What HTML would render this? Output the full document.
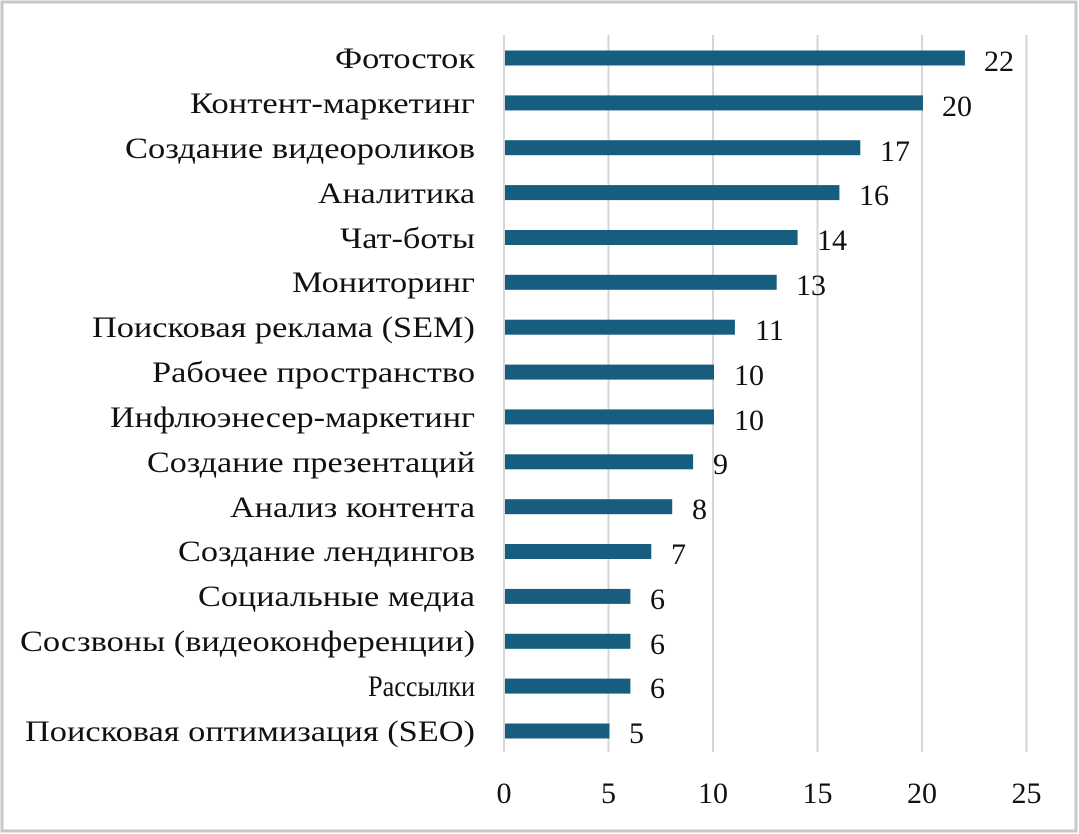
<!DOCTYPE html>
<html><head><meta charset="utf-8"><style>
html,body{margin:0;padding:0;background:#fff;}
svg{display:block;}
text{font-family:"Liberation Serif",serif;font-size:30px;fill:#111;}
</style></head><body>
<svg width="1079" height="834" viewBox="0 0 1079 834">
<rect x="2" y="2" width="1074" height="829" fill="#fff" stroke="#c8c8c8" stroke-width="3"/>
<g stroke="#d6d6d6" stroke-width="2">
<line x1="504" y1="35" x2="504" y2="752"/>
<line x1="608.5" y1="35" x2="608.5" y2="752"/>
<line x1="713" y1="35" x2="713" y2="752"/>
<line x1="817.5" y1="35" x2="817.5" y2="752"/>
<line x1="922" y1="35" x2="922" y2="752"/>
<line x1="1026.5" y1="35" x2="1026.5" y2="752"/>
</g>
<g fill="#175d7f">
<rect x="505" y="50.5" width="459.9" height="15"/>
<rect x="505" y="95.4" width="418" height="15"/>
<rect x="505" y="140.2" width="355.3" height="15"/>
<rect x="505" y="185.1" width="334.4" height="15"/>
<rect x="505" y="230" width="292.6" height="15"/>
<rect x="505" y="274.8" width="271.7" height="15"/>
<rect x="505" y="319.7" width="229.9" height="15"/>
<rect x="505" y="364.6" width="209" height="15"/>
<rect x="505" y="409.4" width="209" height="15"/>
<rect x="505" y="454.3" width="188.1" height="15"/>
<rect x="505" y="499.2" width="167.2" height="15"/>
<rect x="505" y="544" width="146.3" height="15"/>
<rect x="505" y="588.9" width="125.4" height="15"/>
<rect x="505" y="633.8" width="125.4" height="15"/>
<rect x="505" y="678.6" width="125.4" height="15"/>
<rect x="505" y="723.5" width="104.5" height="15"/>
</g>
<g lengthAdjust="spacingAndGlyphs">
<text x="335" y="68" textLength="140" lengthAdjust="spacingAndGlyphs">Фотосток</text>
<text x="190" y="113" textLength="285" lengthAdjust="spacingAndGlyphs">Контент-маркетинг</text>
<text x="125" y="158" textLength="350" lengthAdjust="spacingAndGlyphs">Создание видеороликов</text>
<text x="318" y="203" textLength="157" lengthAdjust="spacingAndGlyphs">Аналитика</text>
<text x="340" y="248" textLength="135" lengthAdjust="spacingAndGlyphs">Чат-боты</text>
<text x="292" y="292" textLength="183" lengthAdjust="spacingAndGlyphs">Мониторинг</text>
<text x="92" y="337" textLength="383" lengthAdjust="spacingAndGlyphs">Поисковая реклама (SEM)</text>
<text x="152" y="382" textLength="323" lengthAdjust="spacingAndGlyphs">Рабочее пространство</text>
<text x="110" y="427" textLength="365" lengthAdjust="spacingAndGlyphs">Инфлюэнесер-маркетинг</text>
<text x="147" y="472" textLength="328" lengthAdjust="spacingAndGlyphs">Создание презентаций</text>
<text x="230" y="517" textLength="245" lengthAdjust="spacingAndGlyphs">Анализ контента</text>
<text x="178" y="561" textLength="297" lengthAdjust="spacingAndGlyphs">Создание лендингов</text>
<text x="198" y="606" textLength="277" lengthAdjust="spacingAndGlyphs">Социальные медиа</text>
<text x="20" y="651" textLength="455" lengthAdjust="spacingAndGlyphs">Сосзвоны (видеоконференции)</text>
<text x="368" y="696" textLength="107" lengthAdjust="spacingAndGlyphs">Рассылки</text>
<text x="25" y="741" textLength="450" lengthAdjust="spacingAndGlyphs">Поисковая оптимизация (SEO)</text>
</g>
<g>
<text x="984" y="71">22</text>
<text x="942" y="116">20</text>
<text x="880" y="161">17</text>
<text x="859" y="205">16</text>
<text x="817" y="250">14</text>
<text x="796" y="295">13</text>
<text x="755" y="340">11</text>
<text x="734" y="385">10</text>
<text x="734" y="430">10</text>
<text x="713" y="474">9</text>
<text x="692" y="519">8</text>
<text x="671" y="564">7</text>
<text x="650" y="609">6</text>
<text x="650" y="654">6</text>
<text x="650" y="698">6</text>
<text x="629" y="743">5</text>
</g>
<g text-anchor="middle" style="font-size:28px">
<text x="504" y="803">0</text>
<text x="608.5" y="803">5</text>
<text x="713" y="803">10</text>
<text x="817.5" y="803">15</text>
<text x="922" y="803">20</text>
<text x="1026.5" y="803">25</text>
</g>
</svg>
</body></html>
